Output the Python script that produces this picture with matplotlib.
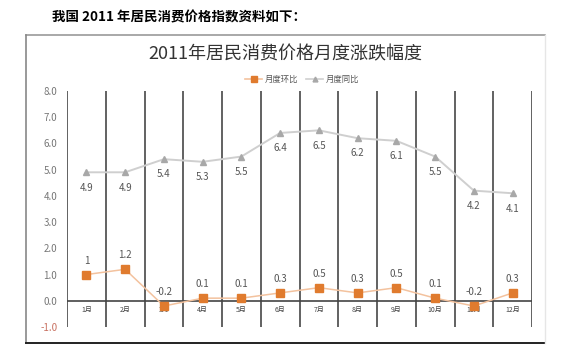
import matplotlib.pyplot as plt
from matplotlib.lines import Line2D
import numpy as np

plt.rcParams['font.family'] = ['Noto Sans CJK SC', 'DejaVu Sans']

months = ['1月', '2月', '3月', '4月', '5月', '6月', '7月', '8月', '9月', '10月', '11月', '12月']
mom = [1, 1.2, -0.2, 0.1, 0.1, 0.3, 0.5, 0.3, 0.5, 0.1, -0.2, 0.3]
yoy = [4.9, 4.9, 5.4, 5.3, 5.5, 6.4, 6.5, 6.2, 6.1, 5.5, 4.2, 4.1]
mom_labels = ['1', '1.2', '-0.2', '0.1', '0.1', '0.3', '0.5', '0.3', '0.5', '0.1', '-0.2', '0.3']
yoy_labels = ['4.9', '4.9', '5.4', '5.3', '5.5', '6.4', '6.5', '6.2', '6.1', '5.5', '4.2', '4.1']
y_ticks = [-1, 0, 1, 2, 3, 4, 5, 6, 7, 8]

W, H = 579, 351
fig = plt.figure(figsize=(W / 100, H / 100), dpi=100)
fig.patch.set_facecolor('white')

# page heading
fig.text(52 / W, 1 - 17 / H, '我国 2011 年居民消费价格指数资料如下：', fontsize=9.7,
         fontweight='bold', color='black', ha='left', va='center')

# chart frame
fx0, fx1, fy0, fy1 = 26 / W, 545 / W, 1 - 343 / H, 1 - 35 / H
fig.add_artist(Line2D([fx0, fx1], [fy1, fy1], color='#999999', lw=1.2))
fig.add_artist(Line2D([fx0, fx0], [fy0, fy1], color='#888888', lw=1.2))
fig.add_artist(Line2D([fx0, fx1], [fy0, fy0], color='#222222', lw=1.4))
fig.add_artist(Line2D([fx1, fx1], [fy0, fy1], color='#e6e6e6', lw=1.0))

fig.text(285 / W, 1 - 54 / H, '2011年居民消费价格月度涨跌幅度', fontsize=13,
         color='#333333', ha='center', va='center')

ax = fig.add_axes([67 / W, 1 - 327 / H, (532 - 67) / W, (327 - 91) / H])
ax.set_xlim(0, 12)
ax.set_ylim(-1, 8)
for s in ax.spines.values():
    s.set_visible(False)

for b in range(13):
    ax.axvline(b, color='#555555', lw=1.3, zorder=1)
ax.axhline(0, color='#444444', lw=1.2, zorder=1)

x = np.arange(12) + 0.5
ax.plot(x, yoy, color='#cfcfcf', lw=1.4, marker='^', markersize=5,
        markerfacecolor='#a8a8a8', markeredgecolor='#a8a8a8', zorder=3)
ax.plot(x, mom, color='#f3c29e', lw=1.1, marker='s', markersize=5.5,
        markerfacecolor='#e07b2e', markeredgecolor='#e07b2e', zorder=4)

for xi, v, t in zip(x, yoy, yoy_labels):
    ax.annotate(t, (xi, v), xytext=(0, -11), textcoords='offset points',
                ha='center', va='center', fontsize=7, color='#555555')
for xi, v, t in zip(x, mom, mom_labels):
    ax.annotate(t, (xi, v), xytext=(0, 10), textcoords='offset points',
                ha='center', va='center', fontsize=7, color='#555555')
for xi, m in zip(x, months):
    ax.text(xi, -0.35, m, ha='center', va='center', fontsize=5, color='#444444')

ax.set_xticks([])
ax.set_yticks(y_ticks)
ax.set_yticklabels(['%.1f' % v for v in y_ticks], fontsize=7, color='#777777')
ax.get_yticklabels()[0].set_color('#c87060')
ax.tick_params(axis='y', length=0, pad=7)

handles = [
    Line2D([], [], color='#f3c29e', lw=1.2, marker='s', markersize=4.5,
           markerfacecolor='#e07b2e', markeredgecolor='#e07b2e'),
    Line2D([], [], color='#cfcfcf', lw=1.2, marker='^', markersize=3.5,
           markerfacecolor='#a8a8a8', markeredgecolor='#a8a8a8'),
]
fig.legend(handles, ['月度环比', '月度同比'], loc='center', ncol=2,
           bbox_to_anchor=(302 / W, 1 - 79 / H), frameon=False, fontsize=6,
           handlelength=2, columnspacing=1.0, handletextpad=0.3,
           labelcolor='#555555')

fig.savefig('out.png', dpi=100)
